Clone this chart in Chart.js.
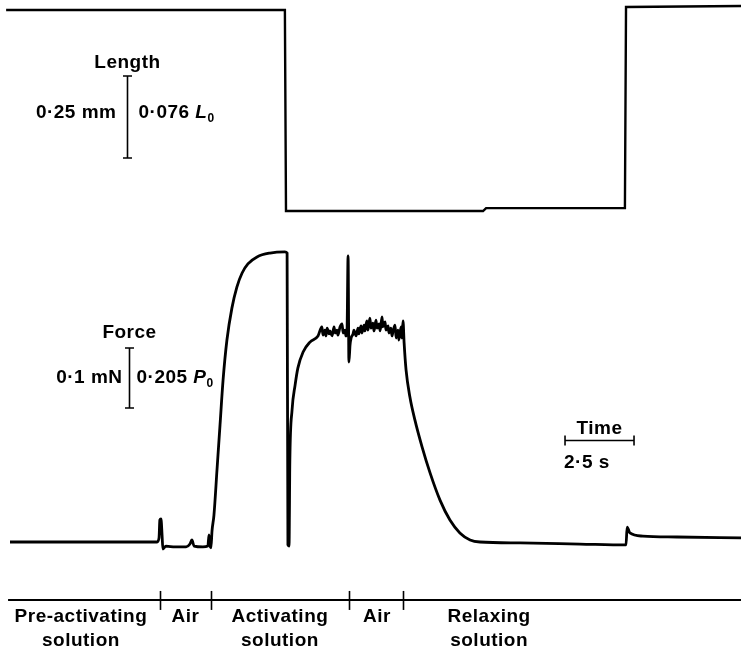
<!DOCTYPE html>
<html>
<head>
<meta charset="utf-8">
<script src="https://cdn.jsdelivr.net/npm/chart.js@4"></script>
<style>
  html, body { margin: 0; padding: 0; background: #fff; }
  #wrap { width: 741px; height: 649px; position: relative; }
</style>
</head>
<body>
<div id="wrap"><canvas id="traceChart"></canvas></div>
<script>
// Force trace: time (s) and force (fraction of P0)
const forceTime = [
  0.00, 3.26, 5.33, 5.40, 5.43, 5.47, 5.51, 5.54, 5.65, 5.98, 6.38, 6.52, 6.59, 6.67, 6.99, 7.17, 7.21, 7.25,
  7.28, 7.32, 7.39, 7.50, 7.61, 7.72, 7.86, 8.04, 8.22, 8.41, 8.62, 8.95, 9.42, 9.96, 10.04,
  10.07, 10.11, 10.14, 10.22, 10.33, 10.43, 10.62, 10.87, 11.16,
  11.30, 11.34, 11.41, 11.45, 11.49, 11.56, 11.59, 11.67, 11.74, 11.78, 11.85, 11.88, 11.96, 12.03, 12.07,
  12.14, 12.17, 12.21, 12.25, 12.28, 12.32, 12.36, 12.43, 12.46, 12.54, 12.61, 12.64, 12.72, 12.75, 12.83,
  12.86, 12.93, 12.97, 13.04, 13.08, 13.15, 13.19, 13.26, 13.30, 13.37, 13.41, 13.48, 13.51, 13.59, 13.62,
  13.70, 13.73, 13.80, 13.84, 13.88, 13.95, 13.99, 14.06, 14.09, 14.17, 14.20, 14.24, 14.28,
  14.35, 14.49, 14.67, 14.93, 15.22, 15.58, 15.94,
  16.30, 16.67, 17.03, 18.48, 20.65, 22.32, 22.36, 22.46, 22.93, 24.17, 26.49
];
const forceValue = [
  0.000, 0.000, 0.000, 0.014, 0.075, 0.079, 0.024, -0.024, -0.014, -0.017, -0.017, -0.007, 0.007, -0.014, -0.017, -0.014, 0.024, -0.014,
  -0.020, 0.038, 0.092, 0.246, 0.400, 0.553, 0.690, 0.799, 0.871, 0.919, 0.950, 0.974, 0.987, 0.991, 0.987,
  -0.010, -0.014, 0.280, 0.451, 0.536, 0.594, 0.649, 0.683, 0.704,
  0.735, 0.707, 0.724, 0.704, 0.731, 0.711, 0.721, 0.704, 0.735, 0.714, 0.724, 0.707, 0.735, 0.745, 0.714,
  0.724, 0.704, 0.714, 0.977, 0.615, 0.673, 0.697, 0.711, 0.724, 0.704, 0.731, 0.711, 0.738, 0.714, 0.741,
  0.721, 0.755, 0.724, 0.765, 0.731, 0.748, 0.721, 0.758, 0.731, 0.745, 0.721, 0.769, 0.735, 0.752, 0.724,
  0.738, 0.714, 0.731, 0.704, 0.721, 0.741, 0.697, 0.724, 0.690, 0.735, 0.697, 0.755, 0.680,
  0.588, 0.495, 0.417, 0.325, 0.236, 0.143, 0.075,
  0.031, 0.007, 0.000, -0.003, -0.007, -0.010, 0.051, 0.031, 0.020, 0.017, 0.014
];

// Length trace: time (s) and length change (mm)
const lengthTime = [-0.14, 9.96, 10.00, 17.14, 17.25, 22.28, 22.32, 26.49];
const lengthValue = [0.000, 0.000, -0.613, -0.613, -0.604, -0.604, 0.009, 0.012];

// Scale bars
const lengthBarMm = 0.25;
const forceBarP0 = 0.205;
const timeBarS = 2.5;

// Solution changes (s) and labels under the record
const solutionChanges = [5.43, 7.28, 12.28, 14.24];
const solutionLabels = [['Pre-activating', 'solution'], ['Air'], ['Activating', 'solution'], ['Air'], ['Relaxing', 'solution']];
const solutionLabelTimes = [2.57, 6.36, 9.78, 13.30, 17.36];

const INK = '#000';
const FAMILY = '"Liberation Sans", Arial, sans-serif';
const FONT = 'bold 19px ' + FAMILY;
const FONT_IT = 'italic bold 19px ' + FAMILY;
const FONT_SUB = 'bold 12px ' + FAMILY;

function drawParts(ctx, parts, x, y, align) {
  // parts: [text, font, dy]
  let total = 0;
  parts.forEach(p => { ctx.font = p[1]; total += ctx.measureText(p[0]).width; });
  let cx = align === 'right' ? x - total : align === 'center' ? x - total / 2 : x;
  parts.forEach(p => {
    ctx.font = p[1];
    ctx.fillText(p[0], cx, y + (p[2] || 0));
    cx += ctx.measureText(p[0]).width;
  });
}

function vBar(ctx, x, y1, y2, cap) {
  ctx.beginPath();
  ctx.moveTo(x, y1); ctx.lineTo(x, y2);
  ctx.moveTo(x - cap, y1); ctx.lineTo(x + cap, y1);
  ctx.moveTo(x - cap, y2); ctx.lineTo(x + cap, y2);
  ctx.stroke();
}

const annotations = {
  id: 'annotations',
  afterDatasetsDraw(chart) {
    const { ctx, scales } = chart;
    const sx = scales.x, yF = scales.yF, yL = scales.yL;
    ctx.save();
    ctx.strokeStyle = INK;
    ctx.fillStyle = INK;
    ctx.lineWidth = 1.6;
    ctx.textAlign = 'left';
    ctx.textBaseline = 'alphabetic';
    ctx.letterSpacing = '0.5px';

    // length calibration
    const lx = Math.round(sx.getPixelForValue(4.24)) + 0.5;
    const lTop = yL.getPixelForValue(-0.201);
    const lBot = yL.getPixelForValue(-0.201 - lengthBarMm);
    vBar(ctx, lx, lTop, lBot, 4.5);
    const lMid = (lTop + lBot) / 2;
    drawParts(ctx, [['Length', FONT]], lx, lTop - 8, 'center');
    drawParts(ctx, [['0·25 mm', FONT]], lx - 11, lMid + 1, 'right');
    drawParts(ctx, [['0·076 ', FONT], ['L', FONT_IT], ['0', FONT_SUB, 4]], lx + 11, lMid + 1, 'left');

    // force calibration
    const fx = Math.round(sx.getPixelForValue(4.31)) + 0.5;
    const fBot = yF.getPixelForValue(0.458);
    const fTop = yF.getPixelForValue(0.458 + forceBarP0);
    vBar(ctx, fx, fTop, fBot, 4.5);
    const fMid = (fTop + fBot) / 2;
    drawParts(ctx, [['Force', FONT]], fx, fTop - 10, 'center');
    drawParts(ctx, [['0·1 mN', FONT]], fx - 7, fMid + 5, 'right');
    drawParts(ctx, [['0·205 ', FONT], ['P', FONT_IT], ['0', FONT_SUB, 4]], fx + 7, fMid + 5, 'left');

    // time calibration
    const tx1 = sx.getPixelForValue(20.11);
    const tx2 = sx.getPixelForValue(20.11 + timeBarS);
    const ty = Math.round(yF.getPixelForValue(0.348)) + 0.5;
    ctx.beginPath();
    ctx.moveTo(tx1, ty); ctx.lineTo(tx2, ty);
    ctx.moveTo(tx1, ty - 5); ctx.lineTo(tx1, ty + 5);
    ctx.moveTo(tx2, ty - 5); ctx.lineTo(tx2, ty + 5);
    ctx.stroke();
    drawParts(ctx, [['Time', FONT]], (tx1 + tx2) / 2, ty - 7, 'center');
    drawParts(ctx, [['2·5 s', FONT]], tx1 - 1, ty + 27, 'left');

    // solution time line
    const by = yF.getPixelForValue(-0.198);
    ctx.lineWidth = 2;
    ctx.beginPath();
    ctx.moveTo(sx.getPixelForValue(-0.07), by);
    ctx.lineTo(sx.getPixelForValue(26.49), by);
    ctx.stroke();
    ctx.lineWidth = 1.6;
    solutionChanges.forEach(t => {
      const px = Math.round(sx.getPixelForValue(t)) + 0.5;
      ctx.beginPath();
      ctx.moveTo(px, by - 9); ctx.lineTo(px, by + 10);
      ctx.stroke();
    });
    solutionLabels.forEach((lines, i) => {
      const px = sx.getPixelForValue(solutionLabelTimes[i]);
      lines.forEach((txt, j) => drawParts(ctx, [[txt, FONT]], px, by + 22 + j * 24, 'center'));
    });
    ctx.restore();
  }
};

new Chart(document.getElementById('traceChart'), {
  type: 'line',
  data: {
    datasets: [
      {
        label: 'Force',
        data: forceTime.map((t, i) => ({ x: t, y: forceValue[i] })),
        yAxisID: 'yF',
        borderColor: INK,
        borderWidth: 2.8,
        pointRadius: 0,
        cubicInterpolationMode: 'monotone'
      },
      {
        label: 'Length',
        data: lengthTime.map((t, i) => ({ x: t, y: lengthValue[i] })),
        yAxisID: 'yL',
        borderColor: INK,
        borderWidth: 2.4,
        pointRadius: 0,
        tension: 0
      }
    ]
  },
  options: {
    responsive: true,
    maintainAspectRatio: false,
    animation: false,
    devicePixelRatio: 1,
    layout: { padding: 0 },
    plugins: { legend: { display: false }, tooltip: { enabled: false } },
    scales: {
      x: { type: 'linear', min: -0.362, max: 26.486, display: false },
      yF: { type: 'linear', min: -0.3656, max: 1.8517, display: false },
      yL: { type: 'linear', min: -1.9482, max: 0.0305, display: false }
    }
  },
  plugins: [annotations]
});
</script>
</body>
</html>
